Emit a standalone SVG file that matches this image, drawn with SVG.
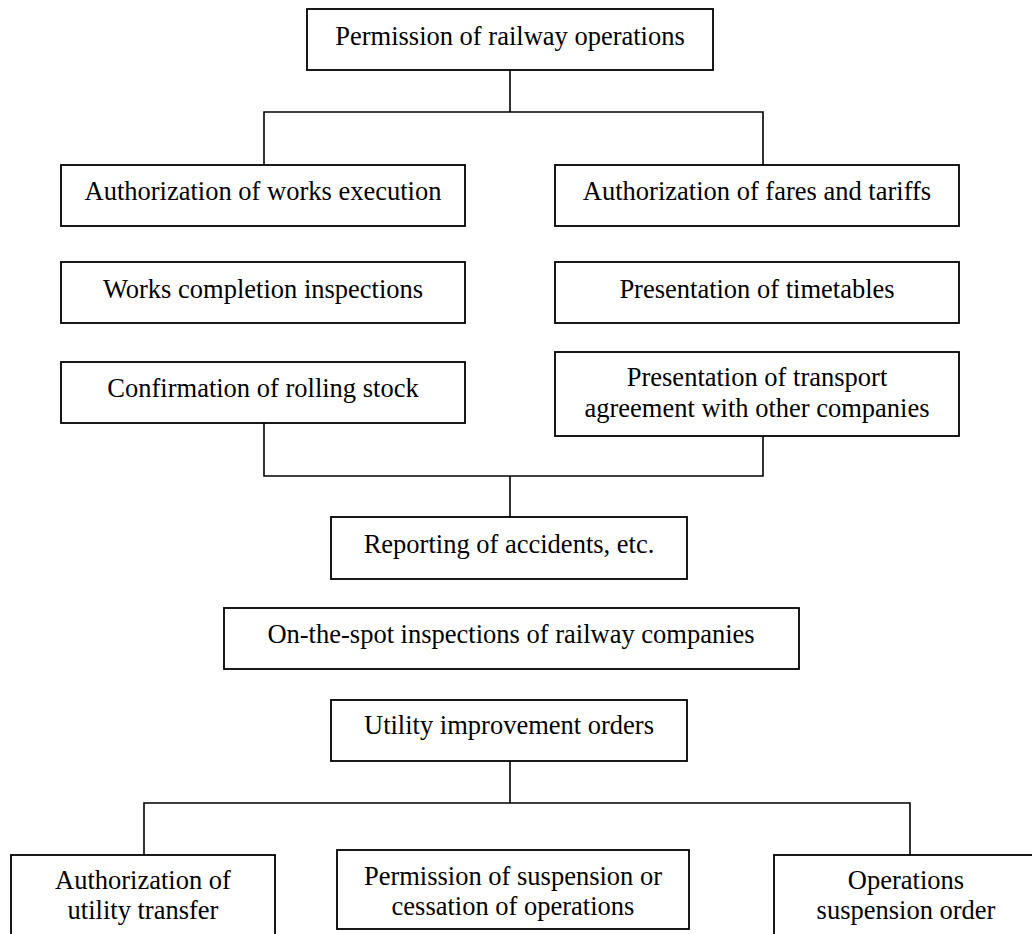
<svg xmlns="http://www.w3.org/2000/svg" width="1032" height="934" viewBox="0 0 1032 934">
<style>
.box{fill:#fff;stroke:#000;stroke-width:1.8}
.t{font-family:"Liberation Serif","Times New Roman",serif;font-size:26.5px;text-anchor:middle;fill:#000}
.c{fill:none;stroke:#000;stroke-width:1.6}
</style>
<rect width="1032" height="934" fill="#fff"/>
<g id="connectors">
<path class="c" d="M510 70V112M264 165V112H763V165"/>
<path class="c" d="M264 423V476H763V436M510 476V517"/>
<path class="c" d="M510 761V803M144 855V803H910V855"/>
</g>
<g id="n1"><rect class="box" x="307" y="9" width="406" height="61"/><text class="t" x="510" y="45">Permission of railway operations</text></g>
<g id="n2"><rect class="box" x="61" y="165" width="404" height="61"/><text class="t" x="263" y="200">Authorization of works execution</text></g>
<g id="n3"><rect class="box" x="555" y="165" width="404" height="61"/><text class="t" x="757" y="200">Authorization of fares and tariffs</text></g>
<g id="n4"><rect class="box" x="61" y="262" width="404" height="61"/><text class="t" x="263" y="298">Works completion inspections</text></g>
<g id="n5"><rect class="box" x="555" y="262" width="404" height="61"/><text class="t" x="757" y="298">Presentation of timetables</text></g>
<g id="n6"><rect class="box" x="61" y="362" width="404" height="61"/><text class="t" x="263" y="397">Confirmation of rolling stock</text></g>
<g id="n7"><rect class="box" x="555" y="352" width="404" height="84"/><text class="t" x="757" y="386">Presentation of transport</text><text class="t" x="757" y="417">agreement with other companies</text></g>
<g id="n8"><rect class="box" x="331" y="517" width="356" height="62"/><text class="t" x="509" y="553">Reporting of accidents, etc.</text></g>
<g id="n9"><rect class="box" x="224" y="608" width="575" height="61"/><text class="t" x="511" y="643">On-the-spot inspections of railway companies</text></g>
<g id="n10"><rect class="box" x="331" y="700" width="356" height="61"/><text class="t" x="509" y="734">Utility improvement orders</text></g>
<g id="n11"><rect class="box" x="11" y="855" width="264" height="100"/><text class="t" x="143" y="889">Authorization of</text><text class="t" x="143" y="919">utility transfer</text></g>
<g id="n12"><rect class="box" x="337" y="850" width="352" height="79"/><text class="t" x="513" y="885">Permission of suspension or</text><text class="t" x="513" y="915">cessation of operations</text></g>
<g id="n13"><rect class="box" x="774" y="855" width="264" height="100"/><text class="t" x="906" y="889">Operations</text><text class="t" x="906" y="919">suspension order</text></g>
</svg>
